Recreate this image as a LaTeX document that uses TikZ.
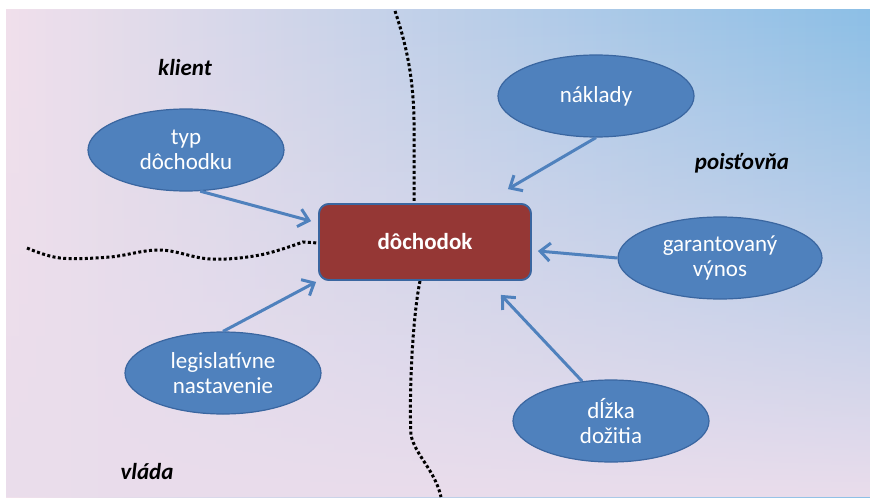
\documentclass[tikz,border=0pt]{standalone}
\usepackage{fontspec}
\setmainfont{Carlito}
\usetikzlibrary{shapes.geometric,arrows.meta,fadings}
\definecolor{bgpink}{HTML}{F1E0EB}
\definecolor{bgblue}{HTML}{8CBFE6}
\definecolor{bgbot}{HTML}{EADDEC}
\definecolor{ellfill}{HTML}{4F81BD}
\definecolor{ellline}{HTML}{3A66A0}
\definecolor{boxfill}{HTML}{953735}
\tikzset{
  txt/.style={font=\fontsize{11.5}{12.5}\selectfont},
  ell/.style={ellipse, draw=ellline, line width=0.6pt, fill=ellfill, text=white,
    inner sep=0pt, align=center, txt},
  mainbox/.style={rectangle, rounded corners=5pt, draw=ellline, line width=0.9pt,
    fill=boxfill, text=white, minimum width=106pt, minimum height=38pt,
    font=\fontsize{11.5}{12.5}\selectfont\bfseries},
  arr/.style={draw=ellfill, line width=1.5pt, -{Straight Barb[length=5pt,width=9pt]}},
  dotline/.style={black, line width=1.5pt, dash pattern=on 1.5pt off 1.2pt},
  region/.style={font=\fontsize{11.5}{12.5}\selectfont\bfseries\itshape, text=black}
}
\begin{document}
\begin{tikzpicture}[x=0.5pt, y=-0.5pt]
\useasboundingbox (0,0) rectangle (870,497);
\fill[white] (0,0) rectangle (870,497);
\shade[left color=bgpink, right color=bgblue] (6,10) rectangle (870,497);
\fill[bgbot, path fading=north] (6,10) rectangle (870,497);

% central box
\node[mainbox] (box) at (425,242) {dôchodok};

% dotted boundaries
\draw[dotline] (395,11) .. controls (408,50) and (415,85) .. (414,140) -- ([shift={(-11,0)}]box.north);
\draw[dotline] plot[smooth, tension=0.6] coordinates {(27,248) (60,258) (110,257) (160,250) (210,259) (260,255) (303,242)} -- ([shift={(0,1)}]box.west);
\draw[dotline] ([shift={(-5,0)}]box.south) .. controls (412,320) and (409,400) .. (411,435) .. controls (415,455) and (435,470) .. (441,497);

% ellipses
\node[ell, minimum width=98pt, minimum height=41pt] (typ) at (186,150) {typ\\dôchodku};
\node[ell, minimum width=98pt, minimum height=41pt] (nak) at (596,96) {náklady};
\node[ell, minimum width=102pt, minimum height=41pt] (gar) at (720,258) {garantovaný\\výnos};
\node[ell, minimum width=98pt, minimum height=41pt] (leg) at (223,373) {legislatívne\\nastavenie};
\node[ell, minimum width=98pt, minimum height=41pt] (dlz) at (611,421) {dĺžka\\dožitia};

% box drawn again on top of dotted lines
\node[mainbox] at (box) {dôchodok};

% arrows
\draw[arr] (typ.-71) -- ([shift={(-7,18)}]box.north west);
\draw[arr] (nak.south) -- ([shift={(-24,-14)}]box.north east);
\draw[arr] (gar.west) -- ([shift={(6,9)}]box.east);
\draw[arr] (dlz.126) -- ([shift={(-31,14)}]box.south east);
\draw[arr] (leg.north) -- ([shift={(-2,1)}]box.south west);

% region labels
\node[region] (klient) at (185,68) {klient};
\node[region] (pois) at (742,163) {poisťovňa};
\node[region] (vlada) at (147,472) {vláda};
\end{tikzpicture}
\end{document}
